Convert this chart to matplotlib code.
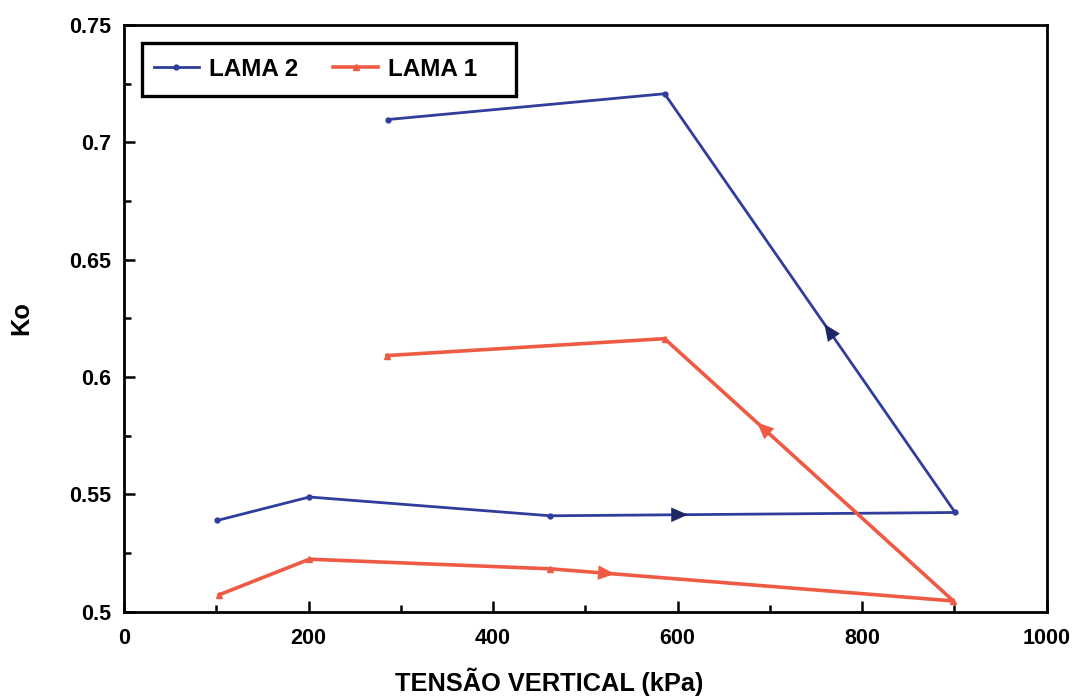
import numpy as np
import matplotlib.pyplot as plt
from matplotlib.patches import Rectangle, ArrowStyle

plt.rcParams['font.family'] = ['Liberation Sans', 'DejaVu Sans']
plt.rcParams['font.weight'] = 'bold'

# Ko vs vertical stress, loading then unloading
tensao_lama2 = [101, 201, 462, 901, 586, 286]
ko_lama2 = [0.5388, 0.5488, 0.5408, 0.5422, 0.7207, 0.7097]

tensao_lama1 = [103, 201, 462, 899, 586, 285]
ko_lama1 = [0.5071, 0.5223, 0.5182, 0.5045, 0.6163, 0.6091]

# direction arrows: (segment index, fraction along segment)
setas_lama2 = [(2, 0.32), (3, 0.43)]
setas_lama1 = [(2, 0.14), (3, 0.66)]

azul = '#2f3d9c'
azul_seta = '#1d2766'
vermelho = '#ef5a45'

fig = plt.figure(figsize=(10.72, 6.97), dpi=100)
ax = fig.add_axes([124 / 1072, 1 - 611.5 / 697, 922.5 / 1072, 586.5 / 697])

ax.plot(tensao_lama2, ko_lama2, color=azul, lw=2.0, marker='o', ms=3.5, label='LAMA 2')
ax.plot(tensao_lama1, ko_lama1, color=vermelho, lw=2.6, marker='^', ms=4, label='LAMA 1')


def desenha_setas(x, y, setas, cor):
    for i, f in setas:
        x0, y0 = x[i], y[i]
        x1, y1 = x[i + 1], y[i + 1]
        xa = x0 + (x1 - x0) * f
        ya = y0 + (y1 - y0) * f
        xb = x0 + (x1 - x0) * (f + 0.02)
        yb = y0 + (y1 - y0) * (f + 0.02)
        ax.annotate('', xy=(xb, yb), xytext=(xa, ya),
                    arrowprops=dict(arrowstyle=ArrowStyle('-|>', head_length=0.8, head_width=0.35),
                                    mutation_scale=15, lw=0, color=cor,
                                    shrinkA=0, shrinkB=0))


desenha_setas(tensao_lama2, ko_lama2, setas_lama2, azul_seta)
desenha_setas(tensao_lama1, ko_lama1, setas_lama1, vermelho)

ax.set_xlim(0, 1000)
ax.set_ylim(0.5, 0.75)
ax.set_xticks([0, 200, 400, 600, 800, 1000])
ax.set_xticks([100, 300, 500, 700, 900], minor=True)
ax.set_yticks([0.5, 0.55, 0.6, 0.65, 0.7, 0.75])
ax.set_yticks([0.525, 0.575, 0.625, 0.675, 0.725], minor=True)
ax.set_yticklabels(['0.5', '0.55', '0.6', '0.65', '0.7', '0.75'])

ax.tick_params(which='both', direction='in', width=1.8, labelsize=15.5)
ax.tick_params(which='major', length=8)
ax.tick_params(which='minor', length=5)
ax.tick_params(axis='x', pad=12)
ax.tick_params(axis='y', pad=9)
for s in ax.spines.values():
    s.set_linewidth(2.0)

ax.set_xlabel('TENSÃO VERTICAL (kPa)', fontsize=18.3, fontweight='bold')
ax.xaxis.set_label_coords((549 - 124) / 922.5, -(668 - 611.5) / 586.5)
ax.set_ylabel('Ko', fontsize=18.3, fontweight='bold')
ax.yaxis.set_label_coords((33 - 124) / 922.5, 0.5)

# legend with its own box
ax.add_patch(Rectangle(((142 - 124) / 922.5, (611.5 - 95.5) / 586.5),
                       (516 - 142) / 922.5, 52 / 586.5, transform=ax.transAxes,
                       fill=False, ec='black', lw=2.4, zorder=5))
ax.legend(loc='center left', bbox_to_anchor=((154 - 124) / 922.5, (611.5 - 69.5) / 586.5),
          ncol=2, frameon=False, fontsize=17.5, handlelength=1.85, handletextpad=0.4,
          columnspacing=1.45, borderpad=0, borderaxespad=0)

fig.savefig('out.png', dpi=100)
